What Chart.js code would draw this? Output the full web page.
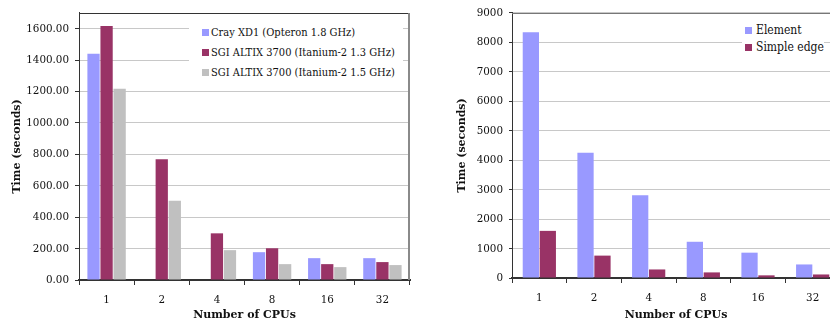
<!DOCTYPE html>
<html>
<head>
<meta charset="utf-8">
<script src="https://cdn.jsdelivr.net/npm/chart.js@4.4.1/dist/chart.umd.min.js"></script>
<style>
  html, body { margin: 0; padding: 0; background: #fff; }
  #wrap { position: relative; width: 830px; height: 324px; overflow: hidden; }
  .panel { position: absolute; top: 0; height: 324px; overflow: hidden; }
  #p1 { left: 0; width: 415px; }
  #p2 { left: 415px; width: 415px; }
  .legend { position: absolute; background: #fff; font-family: "DejaVu Serif Condensed", "DejaVu Serif", serif; color: #111; box-sizing: border-box; }
  .legend .row { display: flex; align-items: center; white-space: nowrap; }
  .legend .sw { display: inline-block; width: 7px; height: 7px; flex: none; }
  #leg1 { left: 189px; top: 15px; width: 214px; height: 65px; padding: 7px 0 0 13px; font-size: 11px; }
  #leg1 .row { height: 20px; }
  #leg1 .sw { margin-right: 2px; }
  #leg2 { left: 327px; top: 20px; width: 82px; height: 37px; padding: 1.5px 0 0 3px; font-size: 12px; }
  #leg2 .row { height: 17px; }
  #leg2 .sw { margin-right: 4px; }
</style>
</head>
<body>
<div id="wrap">
  <div class="panel" id="p1">
    <canvas id="c1" width="415" height="324"></canvas>
    <div class="legend" id="leg1"></div>
  </div>
  <div class="panel" id="p2">
    <canvas id="c2" width="430" height="324"></canvas>
    <div class="legend" id="leg2"></div>
  </div>
</div>
<script>
// Run times (seconds) by number of CPUs
const cpuCounts = ['1', '2', '4', '8', '16', '32'];

// Left panel: platform comparison
const crayXD1 = [1440, null, null, 177, 139, 139];
const altix13 = [1617, 769, 297, 202, 101, 114];
const altix15 = [1217, 505, 190, 101, 82, 95];
const platformLabels = [
  'Cray XD1 (Opteron 1.8 GHz)',
  'SGI ALTIX 3700 (Itanium-2 1.3 GHz)',
  'SGI ALTIX 3700 (Itanium-2 1.5 GHz)'
];
const leftTickStep = 200;
const leftAxisMax = 1700;

// Right panel: element vs. simple edge
const elementTimes = [8340, 4250, 2810, 1230, 860, 460];
const simpleEdgeTimes = [1600, 760, 290, 190, 90, 120];
const methodLabels = ['Element', 'Simple edge'];
const rightTickStep = 1000;
const rightAxisMax = 9000;

const BLUE = '#9999ff', MAROON = '#993366', GREY = '#c0c0c0';
const FONT = '"DejaVu Serif", serif';
const FONT_NARROW = '"DejaVu Serif Condensed", "DejaVu Serif", serif';

// Top/right frame lines around the plot area
const frame = {
  id: 'frame',
  afterDraw(chart, args, opts) {
    const { ctx, chartArea: a } = chart;
    ctx.save();
    ctx.strokeStyle = opts.topColor;
    ctx.lineWidth = 1;
    ctx.beginPath();
    ctx.moveTo(a.left, Math.round(a.top) + 0.5);
    ctx.lineTo(a.right, Math.round(a.top) + 0.5);
    ctx.stroke();
    if (opts.rightWidth) {
      ctx.strokeStyle = opts.rightColor;
      ctx.lineWidth = opts.rightWidth;
      ctx.beginPath();
      ctx.moveTo(a.right - opts.rightWidth / 2, a.top);
      ctx.lineTo(a.right - opts.rightWidth / 2, a.bottom);
      ctx.stroke();
    }
    ctx.restore();
  }
};

function buildLegend(el, chart) {
  chart.data.datasets.forEach(ds => {
    const row = document.createElement('div');
    row.className = 'row';
    const sw = document.createElement('span');
    sw.className = 'sw';
    sw.style.background = ds.backgroundColor;
    const txt = document.createElement('span');
    txt.textContent = ds.label;
    row.appendChild(sw);
    row.appendChild(txt);
    el.appendChild(row);
  });
}

function makeOptions(cfg) {
  return {
    responsive: false,
    animation: false,
    devicePixelRatio: 1,
    layout: { padding: cfg.padding },
    plugins: {
      legend: { display: false },
      tooltip: { enabled: false },
      frame: cfg.frame
    },
    scales: {
      x: {
        grid: { drawOnChartArea: false, drawTicks: true, tickLength: 5, tickColor: '#333', offset: true },
        border: { display: true, color: '#333', width: 2 },
        ticks: { color: '#111', font: { family: FONT_NARROW, size: cfg.tickSize }, padding: cfg.xTickPad, maxRotation: 0 },
        title: { display: true, text: 'Number of CPUs', color: '#111',
                 font: { family: FONT, size: cfg.titleSize, weight: 'bold' }, padding: { top: 0, bottom: cfg.xTitlePad } },
        afterFit: s => { s.height = cfg.xHeight; }
      },
      y: {
        min: 0,
        max: cfg.max,
        grid: { color: '#c8c8c8', lineWidth: 1, drawTicks: true, tickLength: cfg.yTickLen, tickColor: '#333' },
        border: { display: true, color: '#333', width: 1 },
        ticks: { stepSize: cfg.step, color: '#111', font: { family: FONT_NARROW, size: cfg.tickSize }, padding: cfg.yTickPad,
                 callback: cfg.fmt },
        afterBuildTicks: s => { s.ticks = s.ticks.filter(t => t.value % cfg.step === 0); },
        title: { display: true, text: 'Time (seconds)', color: '#111',
                 font: { family: FONT, size: cfg.titleSize, weight: 'bold' }, padding: { top: cfg.yTitlePad, bottom: 0 } },
        afterFit: s => { s.width = cfg.yWidth; }
      }
    }
  };
}

const chart1 = new Chart(document.getElementById('c1'), {
  type: 'bar',
  data: {
    labels: cpuCounts,
    datasets: [
      { label: platformLabels[0], data: crayXD1, backgroundColor: BLUE },
      { label: platformLabels[1], data: altix13, backgroundColor: MAROON },
      { label: platformLabels[2], data: altix15, backgroundColor: GREY }
    ].map(d => Object.assign(d, { categoryPercentage: 0.71, barPercentage: 0.94, borderWidth: 0 }))
  },
  options: makeOptions({
    padding: { left: 0, right: 5, top: 11, bottom: 0 },
    max: leftAxisMax, step: leftTickStep,
    fmt: v => v.toFixed(2),
    tickSize: 11.5, titleSize: 11,
    xHeight: 44, yWidth: 79, yTickLen: 4, yTickPad: 6, xTickPad: 8,
    xTitlePad: 2, yTitlePad: 11,
    frame: { topColor: '#333', rightColor: '#8a8a8a', rightWidth: 2 }
  }),
  plugins: [frame]
});

const chart2 = new Chart(document.getElementById('c2'), {
  type: 'bar',
  data: {
    labels: cpuCounts,
    datasets: [
      { label: methodLabels[0], data: elementTimes, backgroundColor: BLUE },
      { label: methodLabels[1], data: simpleEdgeTimes, backgroundColor: MAROON }
    ].map(d => Object.assign(d, { categoryPercentage: 0.62, barPercentage: 0.96, borderWidth: 0 }))
  },
  options: makeOptions({
    padding: { left: 0, right: 5, top: 9, bottom: 0 },
    max: rightAxisMax, step: rightTickStep,
    fmt: v => String(v),
    tickSize: 11.5, titleSize: 11,
    xHeight: 46, yWidth: 97, yTickLen: 3, yTickPad: 6, xTickPad: 8,
    xTitlePad: 2, yTitlePad: 41,
    frame: { topColor: '#777', rightColor: '#777', rightWidth: 0 }
  }),
  plugins: [frame]
});

buildLegend(document.getElementById('leg1'), chart1);
buildLegend(document.getElementById('leg2'), chart2);
</script>
</body>
</html>
